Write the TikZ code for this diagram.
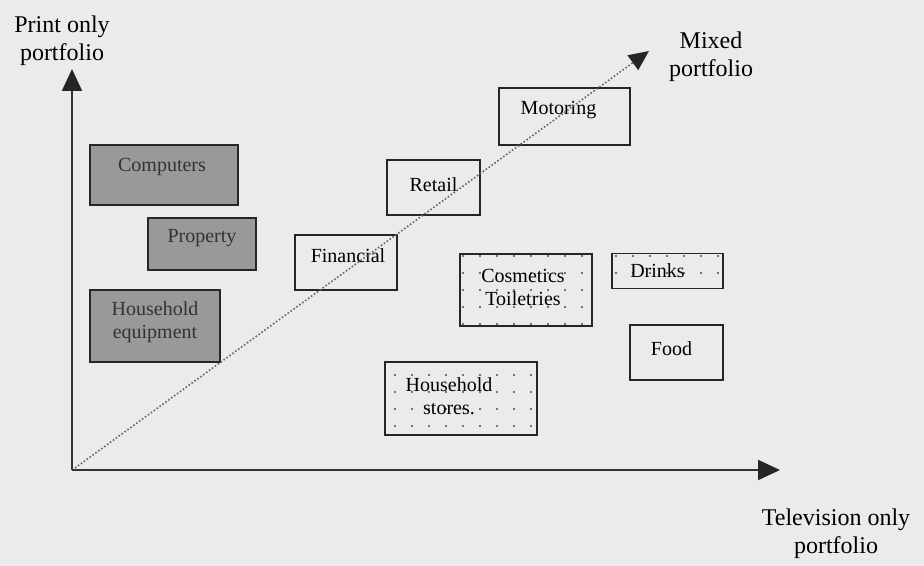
\documentclass[tikz,border=0pt]{standalone}
\usepackage{fontspec}
\setmainfont{Liberation Serif}
\usetikzlibrary{arrows.meta,patterns.meta}
\begin{document}
\begin{tikzpicture}[x=0.5pt,y=-0.5pt,
  axis/.style={draw=black!80, line width=1pt, -{Triangle[length=11pt,width=10pt,color=black!85]}},
  trend/.style={draw=black!60, line width=0.8pt, densely dotted, -{Triangle[length=10pt,width=9pt,color=black!85]}},
  sector/.style={draw=black!85, line width=0.9pt, inner sep=0pt},
  darkbox/.style={sector, fill=black!40},
  dotbox/.style={sector, pattern={Dots[distance=8.5pt,radius=0.55pt,xshift=2pt,yshift=2pt]}, pattern color=black!70},
  boxtext/.style={font=\fontsize{10}{11.5}\selectfont, align=center, inner sep=0pt},
  darktext/.style={boxtext, text=black!80},
  axlabel/.style={font=\fontsize{12}{14}\selectfont, align=center, inner sep=0pt}
]
% canvas
\fill[black!8] (0,0) rectangle (924,566);
\useasboundingbox (0,0) rectangle (924,566);

% sector boxes
\node[darkbox, minimum width=74pt,   minimum height=30pt]   (computers) at (164,175) {};
\node[darkbox, minimum width=54pt,   minimum height=26pt]   (property)  at (202,244) {};
\node[darkbox, minimum width=65pt,   minimum height=36pt]   (hequip)    at (155,326) {};
\node[sector,  minimum width=51pt,   minimum height=27.5pt] (financial) at (346,262.5) {};
\node[sector,  minimum width=46.5pt, minimum height=27.5pt] (retail)    at (433.5,187.5) {};
\node[sector,  minimum width=65.5pt, minimum height=28.5pt] (motoring)  at (564.5,116.5) {};
\node[dotbox,  minimum width=66pt,   minimum height=36pt]   (cosmetics) at (526,290) {};
\node[dotbox,  minimum width=55.5pt, minimum height=17.5pt] (drinks)    at (667.5,271) {};
\node[sector,  minimum width=46.5pt, minimum height=27.5pt] (food)      at (676.5,352.5) {};
\node[dotbox,  minimum width=76pt,   minimum height=36.5pt] (hstores)   at (461,398.5) {};

% sector names
\node[darktext] (computerslbl) at ([xshift=-1pt,yshift=4pt]computers.center) {Computers};
\node[darktext] (propertylbl)  at ([yshift=3pt]property.center) {Property};
\node[darktext] (hequiplbl)    at ([yshift=2pt]hequip.center) {Household\\equipment};
\node[boxtext]  (financiallbl) at ([xshift=1pt,yshift=3.5pt]financial.center) {Financial};
\node[boxtext]  (retaillbl)    at ([yshift=1.5pt]retail.center) {Retail};
\node[boxtext]  (motoringlbl)  at ([xshift=-3pt,yshift=3pt]motoring.center) {Motoring};
\node[boxtext]  (cosmeticslbl) at ([xshift=-1.5pt,yshift=1.5pt]cosmetics.center) {Cosmetics\\Toiletries};
\node[boxtext]  (drinkslbl)    at ([xshift=-5pt]drinks.center) {Drinks};
\node[boxtext]  (foodlbl)      at ([xshift=-2.5pt,yshift=2pt]food.center) {Food};
\node[boxtext]  (hstoreslbl)   at ([xshift=-6pt,yshift=1pt]hstores.center) {Household\\stores.};

% axes
\coordinate (origin) at (72,470);
\coordinate (printend) at (72,69);
\coordinate (tvend) at (780,470);
\coordinate (trendstart) at (75,468);
\coordinate (mixedend) at (649,51);
\draw[axis] (origin) -- (printend);
\draw[axis] (origin) -- (tvend);
\draw[trend] (trendstart) -- (mixedend);

% axis captions
\node[axlabel] (printlbl) at (62,41) {Print only\\portfolio};
\node[axlabel] (mixedlbl) at (711,57) {Mixed\\portfolio};
\node[axlabel] (tvlbl)    at (836,534) {Television only\\portfolio};
\end{tikzpicture}
\end{document}
